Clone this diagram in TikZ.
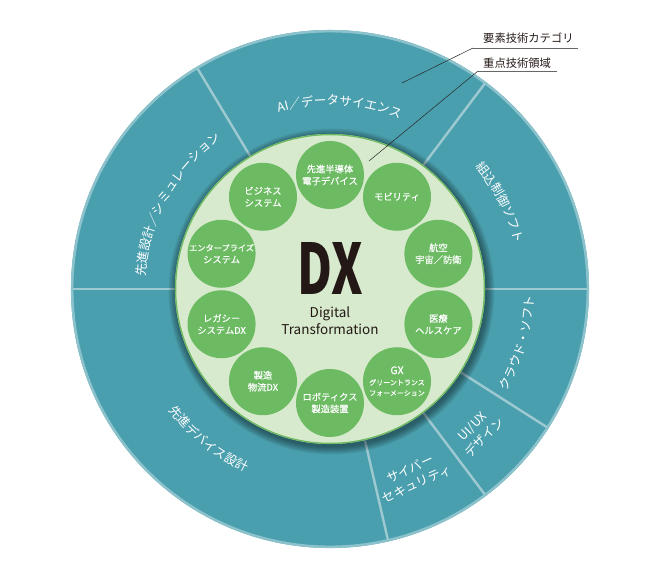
\documentclass[tikz,border=0pt]{standalone}
\usepackage{fontspec}
\newfontfamily\cjk{Noto Sans CJK JP}
\newfontfamily\cjkm[FakeBold=0.4]{Noto Sans CJK JP}
\usetikzlibrary{decorations.text}
\definecolor{ringteal}{HTML}{4A9FAE}
\definecolor{rimteal}{HTML}{8CC2CB}
\definecolor{divcol}{HTML}{9DC9D1}
\definecolor{innergreen}{HTML}{D7EACD}
\definecolor{innerborder}{HTML}{6DBA5F}
\definecolor{dotgreen}{HTML}{6CBB63}
\definecolor{darktext}{HTML}{231815}
\newcommand\myringfont{\cjk\fontsize{12.5}{15}\selectfont\color{white}}
\begin{document}
\begin{tikzpicture}[x=1pt,y=1pt,
  every node/.style={font=\cjk, inner sep=0pt},
  dot/.style={circle, fill=dotgreen, minimum size=68pt, text=white, align=center, font=\cjkm\fontsize{9.3}{12}\selectfont},
  divider/.style={draw=divcol, line width=2.4pt},
  lead/.style={draw=black!85, line width=0.5pt},
  uline/.style={draw=black!60, line width=0.8pt},
  callout/.style={text=darktext, font=\cjk\fontsize{11.3}{13}\selectfont, anchor=base west},
  ringlabel/.style={text=white, align=center, font=\cjk\fontsize{12.5}{16.5}\selectfont},
  ringtext/.style={decorate, decoration={text along path, text align=center, text={#1}}}
]
\useasboundingbox (-330,-283) rectangle (320,289);

% outer ring
\fill[ringteal] (0,0) circle (259);
\draw[rimteal, line width=2.5pt] (0,0) circle (257.8);

% dividers
\foreach \a in {121,53,0,180,-32.5,-53,-77} \draw[divider] (\a:150) -- (\a:257);

% shadow of inner disc
\foreach \r in {156,...,163} \fill[black, opacity=0.06] (1.5,-2.5) circle (\r);

% inner disc
\fill[innergreen] (0,0) circle (155);
\draw[innerborder, line width=1.3pt] (0,0) circle (154.4);

% technology dots
\node[dot] (d1) at (90:114) {先進半導体\\電子デバイス};
\node[dot] (d2) at (54:114) {モビリティ};
\node[dot] (d3) at (18:114) {航空\\宇宙／防衛};
\node[dot] (d4) at (-18:114) {医療\\ヘルスケア};
\node[dot] (d5) at (-54:114) {{\fontsize{10.5}{12}\selectfont GX}\\[-1pt]{\fontsize{7}{8.4}\selectfont グリーントランス}\\[-1.5pt]{\fontsize{7}{8.4}\selectfont フォーメーション}};
\node[dot] (d6) at (-90:114) {ロボティクス\\製造装置};
\node[dot] (d7) at (-126:114) {製造\\物流DX};
\node[dot] (d8) at (-162:114) {レガシー\\システムDX};
\node[dot] (d9) at (162:114) {{\fontsize{8.2}{12}\selectfont エンタープライズ}\\システム};
\node[dot] (d10) at (126:114) {ビジネス\\システム};

% center
\node[text=darktext] (dx) at (0.5,20) {\resizebox{65pt}{52pt}{\bfseries DX}};
\node[text=darktext, align=center, font=\cjk\fontsize{13.5}{16.6}\selectfont] (dt) at (0,-32) {Digital\\Transformation};

% ring labels (clockwise, tops outward)
\path[ringtext={|\myringfont|AI／データサイエンス}] (112:184) arc[start angle=112, end angle=62, radius=184];
\path[ringtext={|\myringfont|組込制御ソフト}] (55:190) arc[start angle=55, end angle=-1, radius=190];
\path[ringtext={|\myringfont|先進設計／シミュレーション}] (185:185) arc[start angle=185, end angle=117, radius=185];
% ring labels (counter-clockwise, tops inward)
\path[ringtext={|\myringfont|クラウド・ソフト}] (-45:204) arc[start angle=-45, end angle=13, radius=204];
\path[ringtext={|\myringfont|先進デバイス設計}] (198:202) arc[start angle=198, end angle=264, radius=202];
\node[ringlabel, rotate=46] (uiux) at (-44:206) {UI/UX\\デザイン};
\node[ringlabel, rotate=24] (cyber) at (-66:205) {サイバー\\セキュリティ};

% callouts
\node[callout] (cat) at (153,246) {要素技術カテゴリ};
\coordinate (catL) at (143,241);
\coordinate (catR) at (248,241);
\coordinate (catP) at (72,206);
\draw[uline] (catL) -- (catR);
\draw[lead] (catL) -- (catP);
\node[callout] (foc) at (153,221.5) {重点技術領域};
\coordinate (focL) at (148,218);
\coordinate (focR) at (227,218);
\coordinate (focP) at (39,128);
\draw[uline] (focL) -- (focR);
\draw[lead] (focL) -- (focP);
\end{tikzpicture}
\end{document}
